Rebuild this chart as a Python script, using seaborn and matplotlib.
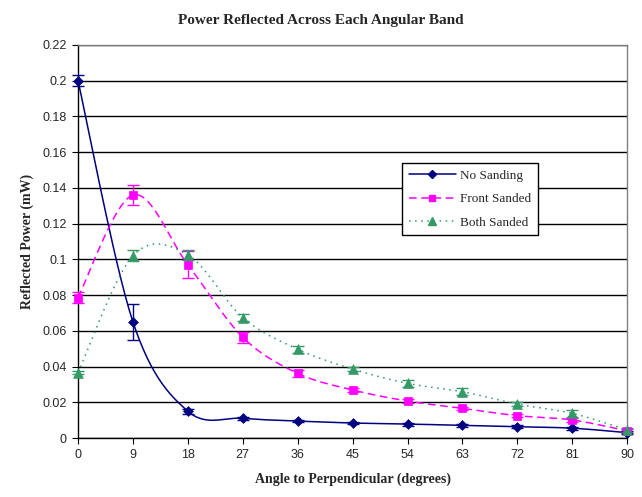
import numpy as np
import pandas as pd
import matplotlib
matplotlib.use("Agg")
import matplotlib.pyplot as plt
import seaborn as sns
from matplotlib.lines import Line2D

angles = [0, 9, 18, 27, 36, 45, 54, 63, 72, 81, 90]
no_sanding = [0.200, 0.065, 0.015, 0.011, 0.0095, 0.0084, 0.0078, 0.0071, 0.0063, 0.0055, 0.003]
no_sanding_err = [0.003, 0.010, 0.0015, 0.0008, 0.0008, 0.0008, 0.0008, 0.0008, 0.0008, 0.0008, 0.0008]
front_sanded = [0.0786, 0.136, 0.097, 0.0564, 0.0362, 0.0269, 0.0207, 0.0166, 0.0125, 0.0101, 0.004]
front_sanded_err = [0.003, 0.0055, 0.0075, 0.003, 0.002, 0.001, 0.001, 0.001, 0.001, 0.001, 0.001]
both_sanded = [0.0366, 0.102, 0.1025, 0.0674, 0.0497, 0.0386, 0.0306, 0.0259, 0.019, 0.0138, 0.0045]
both_sanded_err = [0.001, 0.003, 0.003, 0.002, 0.002, 0.001, 0.002, 0.002, 0.001, 0.002, 0.001]
series_names = ["No Sanding", "Front Sanded", "Both Sanded"]
x_ticks = [0, 9, 18, 27, 36, 45, 54, 63, 72, 81, 90]
y_ticks = [0, 0.02, 0.04, 0.06, 0.08, 0.1, 0.12, 0.14, 0.16, 0.18, 0.2, 0.22]
y_labels = ["0", "0.02", "0.04", "0.06", "0.08", "0.1", "0.12", "0.14", "0.16", "0.18", "0.2", "0.22"]

colors = ["#000080", "#FF00FF", "#339966"]
markers = ["D", "s", "^"]
msizes = [5, 6, 7]
dashes = [(None, None), (5, 3), (1, 3)]


def smooth(xs, ys, n=30):
    # Catmull-Rom style smoothing (like Excel smoothed lines)
    xs = np.asarray(xs, float); ys = np.asarray(ys, float)
    P = np.column_stack([xs, ys])
    P = np.vstack([P[0], P, P[-1]])
    out = []
    t = np.linspace(0, 1, n, endpoint=False)
    for i in range(1, len(P) - 2):
        p0, p1, p2, p3 = P[i - 1], P[i], P[i + 1], P[i + 2]
        c1 = p1 + (p2 - p0) / 6
        c2 = p2 - (p3 - p1) / 6
        seg = ((1 - t) ** 3)[:, None] * p1 + (3 * (1 - t) ** 2 * t)[:, None] * c1 \
            + (3 * (1 - t) * t ** 2)[:, None] * c2 + (t ** 3)[:, None] * p2
        out.append(seg)
    out.append(P[-2][None, :])
    arr = np.vstack(out)
    return arr[:, 0], arr[:, 1]


sns.set_style("white")
fig = plt.figure(figsize=(6.42, 4.97), dpi=100)
ax = fig.add_axes([0.1215, 0.1187, 0.8555, 0.7908])

data = [(no_sanding, no_sanding_err), (front_sanded, front_sanded_err), (both_sanded, both_sanded_err)]
for k, (vals, errs) in enumerate(data):
    sx, sy = smooth(angles, vals)
    df = pd.DataFrame({"x": sx, "y": sy})
    sns.lineplot(data=df, x="x", y="y", ax=ax, color=colors[k], lw=1.1, sort=False)
    line = ax.lines[-1]
    if dashes[k][0] is not None:
        line.set_dashes(dashes[k])
    eb = ax.errorbar(angles, vals, yerr=errs, fmt="none", ecolor=colors[k], elinewidth=1,
                     capsize=4, capthick=1, zorder=4)
    for art in eb.lines[1] + eb.lines[2]:
        art.set_clip_on(False)
    pts = pd.DataFrame({"x": angles, "y": vals})
    sns.scatterplot(data=pts, x="x", y="y", ax=ax, color=colors[k], marker=markers[k],
                    s=msizes[k] ** 2, edgecolor=colors[k], linewidth=0.5, zorder=5,
                    clip_on=False)

ax.set_xlim(0, 90)
ax.set_ylim(0, 0.22)
ax.set_xticks(x_ticks)
ax.set_yticks(y_ticks)
ax.set_yticklabels(y_labels)
ax.yaxis.grid(True, color="black", lw=1)
ax.set_axisbelow(True)
for s in ax.spines.values():
    s.set_color("#808080")
    s.set_linewidth(1)
ax.spines["left"].set_color("black")
ax.spines["bottom"].set_color("black")
ax.tick_params(axis="both", which="major", direction="out", length=4, color="black",
               labelsize=9, left=True, bottom=True, pad=4)
for lab in ax.get_xticklabels() + ax.get_yticklabels():
    lab.set_family("Liberation Sans")

ax.set_xlabel("Angle to Perpendicular (degrees)", family="Liberation Serif",
              fontweight="bold", fontsize=10, labelpad=8)
ax.set_ylabel("Reflected Power (mW)", family="Liberation Serif",
              fontweight="bold", fontsize=10, labelpad=6)
fig.text(0.5, 0.958, "Power Reflected Across Each Angular Band", ha="center", va="center",
         family="Liberation Serif", fontweight="bold", fontsize=11)

handles = []
for k in range(3):
    h = Line2D([0], [0], color=colors[k], lw=1.1, marker=markers[k], markersize=msizes[k] - 1,
               markerfacecolor=colors[k], markeredgecolor=colors[k])
    if dashes[k][0] is not None:
        h.set_dashes(dashes[k])
    handles.append(h)
leg = ax.legend(handles, series_names, loc="upper left", bbox_to_anchor=(0.590, 0.70),
                frameon=True, fancybox=False, edgecolor="black", framealpha=1,
                prop={"family": "Liberation Serif", "size": 9.5}, handlelength=3.6,
                borderpad=0.5, labelspacing=0.85, handletextpad=0.3, borderaxespad=0)
leg.get_frame().set_linewidth(1)

fig.savefig("out.png", dpi=100)
